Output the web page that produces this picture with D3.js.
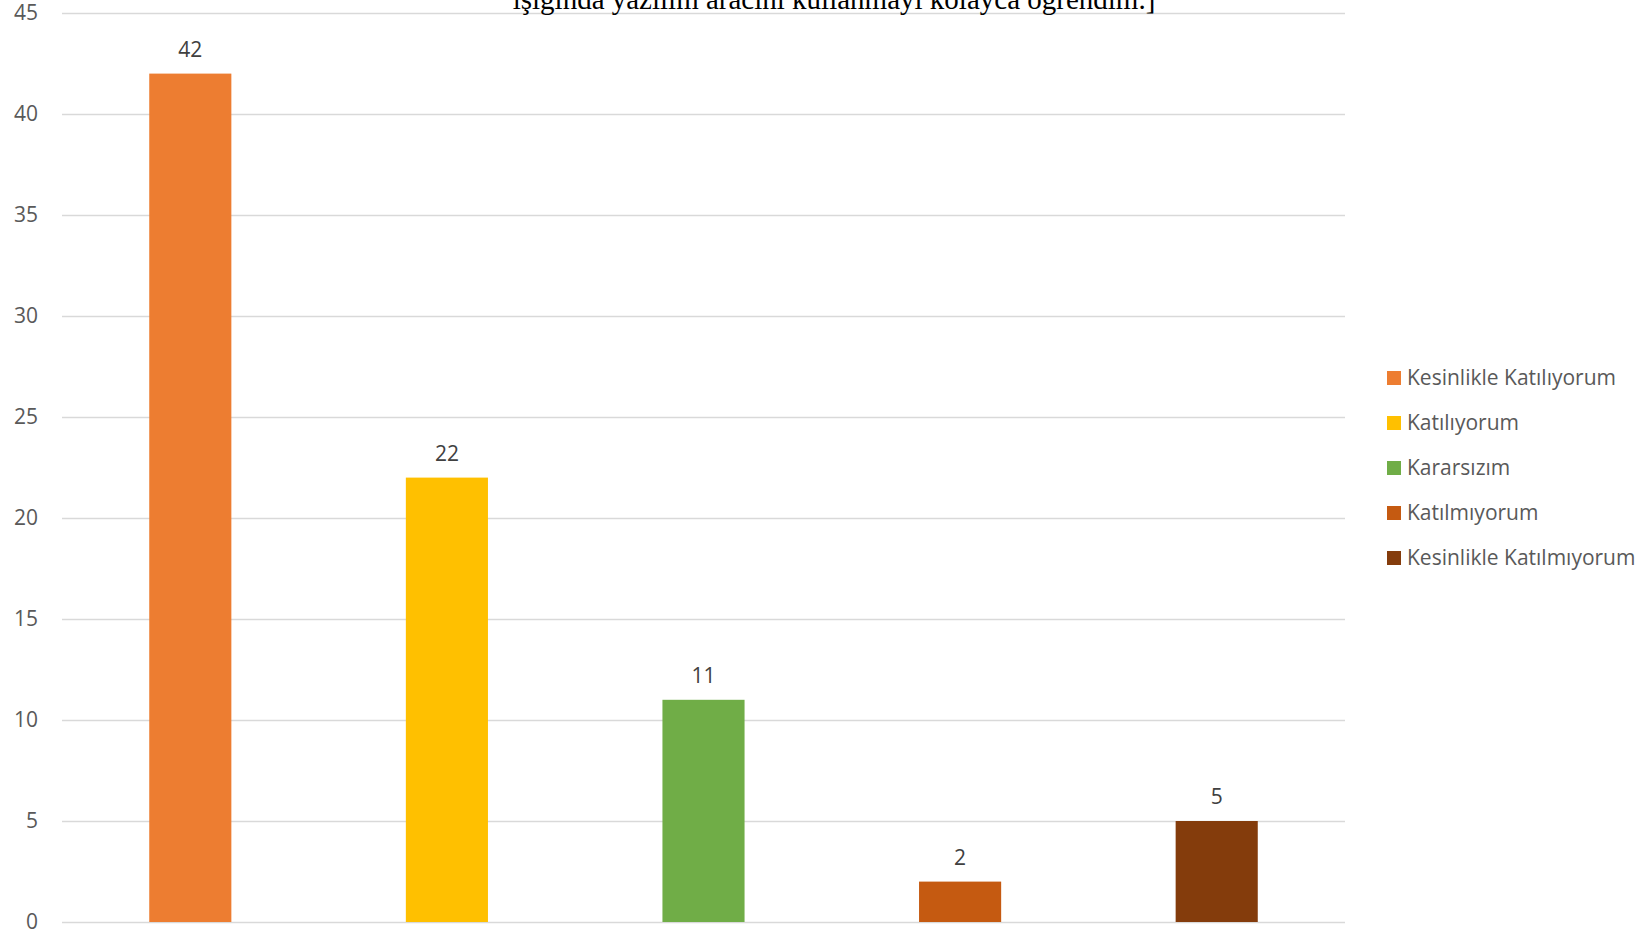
<!doctype html>
<html>
<head>
<meta charset="utf-8">
<style>
  body { margin: 0; background: #fff; }
  svg { display: block; }
</style>
<script src="https://cdnjs.cloudflare.com/ajax/libs/d3/7.8.5/d3.min.js"></script>
</head>
<body>
<svg id="chart" width="1648" height="934"></svg>
<script>
var categories = ["Kesinlikle Katılıyorum", "Katılıyorum", "Kararsızım", "Katılmıyorum", "Kesinlikle Katılmıyorum"];
var values = [42, 22, 11, 2, 5];
var colors = ["#ED7D31", "#FFC000", "#70AD47", "#C55A11", "#843C0C"];
var yTicks = [0, 5, 10, 15, 20, 25, 30, 35, 40, 45];
var titleLine = "ışığında yazılım aracını kullanmayı kolayca öğrendim.]";

var svg = d3.select("#chart");
var plotLeft = 62, plotRight = 1345, plotTop = 13, plotBottom = 922;
var font = "'Open Sans', 'Noto Sans', sans-serif";

var x = d3.scaleBand().domain(categories).range([plotLeft, plotRight]).paddingInner(0.68).paddingOuter(0.34);
var y = d3.scaleLinear().domain([0, 45]).range([plotBottom, plotTop]);

// gridlines
svg.append("g")
  .attr("transform", "translate(" + plotLeft + ",0)")
  .call(d3.axisLeft(y).tickValues(yTicks).tickSize(-(plotRight - plotLeft)).tickFormat(""))
  .call(function(g){
    g.select(".domain").remove();
    g.selectAll("line").attr("stroke", "#d9d9d9").attr("stroke-width", 1.6);
  });

// y labels
svg.append("g")
  .attr("transform", "translate(" + plotLeft + ",0)")
  .call(d3.axisLeft(y).tickValues(yTicks).tickSize(0).tickPadding(24))
  .call(function(g){
    g.select(".domain").remove();
    g.selectAll("text").attr("fill", "#595959")
      .style("font-family", font).style("font-size", "21px");
  });

// bars
svg.selectAll("rect.bar").data(values).enter().append("rect")
  .attr("class", "bar")
  .attr("x", function(d, i){ return x(categories[i]); })
  .attr("y", function(d){ return y(d); })
  .attr("width", x.bandwidth())
  .attr("height", function(d){ return y(0) - y(d); })
  .attr("fill", function(d, i){ return colors[i]; });

// data labels
svg.selectAll("text.lbl").data(values).enter().append("text")
  .attr("class", "lbl")
  .attr("x", function(d, i){ return x(categories[i]) + x.bandwidth() / 2; })
  .attr("y", function(d){ return y(d) - 17; })
  .attr("text-anchor", "middle")
  .attr("fill", "#404040")
  .style("font-family", font).style("font-size", "21px")
  .text(function(d){ return d; });

// title (cut off at top)
svg.append("text")
  .attr("x", 834).attr("y", 9)
  .attr("text-anchor", "middle")
  .attr("fill", "#000")
  .style("font-family", "'Liberation Serif', 'Times New Roman', serif").style("font-size", "29px")
  .text(titleLine);

// legend
var legend = svg.append("g").selectAll("g").data(categories).enter().append("g")
  .attr("transform", function(d, i){ return "translate(1387," + (378 + i * 45) + ")"; });
legend.append("rect").attr("x", 0).attr("y", -7).attr("width", 14).attr("height", 14)
  .attr("fill", function(d, i){ return colors[i]; });
legend.append("text").attr("x", 20).attr("y", 0).attr("dy", "0.35em")
  .attr("fill", "#595959")
  .style("font-family", font).style("font-size", "21px")
  .text(function(d){ return d; });
</script>
</body>
</html>
